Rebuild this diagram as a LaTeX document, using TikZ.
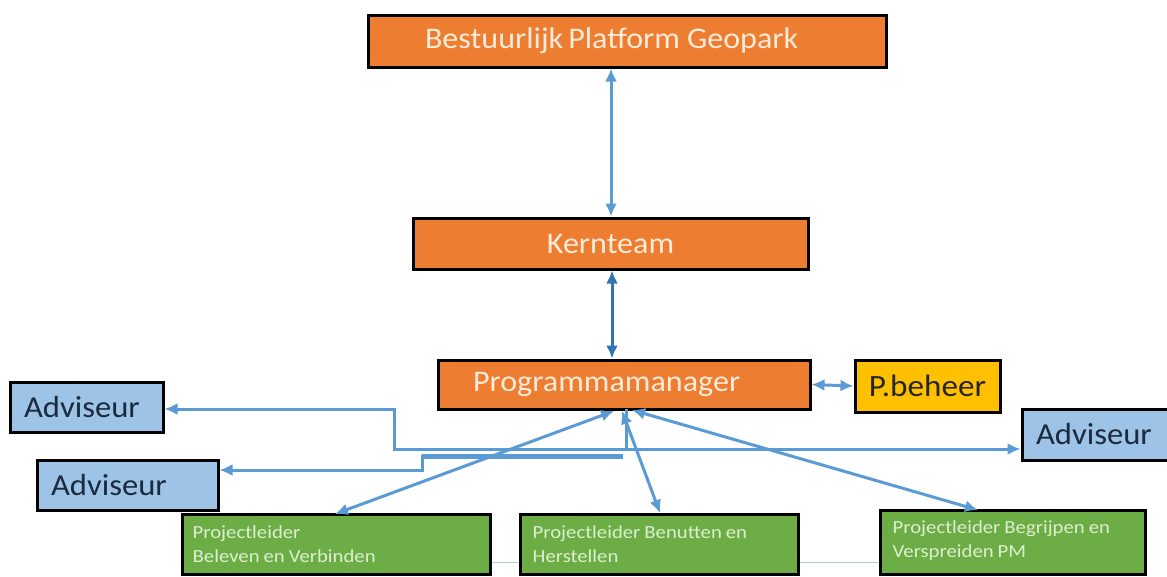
\documentclass[tikz,border=0pt]{standalone}
\usepackage{fontspec}
\setmainfont[FakeStretch=1.07]{Carlito}
\newfontfamily\gfont[FakeStretch=1.12]{Carlito}
\usetikzlibrary{arrows.meta}
\definecolor{orng}{HTML}{ED7D31}
\definecolor{orngtxt}{HTML}{FFEBD8}
\definecolor{yel}{HTML}{FFC000}
\definecolor{lblue}{HTML}{9DC3E6}
\definecolor{grn}{HTML}{6CAD45}
\definecolor{grntxt}{HTML}{DCEFD0}
\definecolor{arr}{HTML}{5B9BD5}
\definecolor{darr}{HTML}{2E75B6}
\definecolor{navy}{HTML}{1A2A40}
\definecolor{thinln}{HTML}{B4CBE3}
\tikzset{
  bx/.style={draw=black, line width=3pt, inner sep=0pt},
  obox/.style={bx, fill=orng, text=orngtxt, font=\fontsize{30}{34}\selectfont},
  abox/.style={bx, fill=lblue, text=navy, font=\fontsize{30.5}{34}\selectfont},
  gbox/.style={bx, fill=grn},
  gtext/.style={inner sep=0pt, anchor=north west, align=left, text=grntxt, font=\gfont\fontsize{18.5}{24}\selectfont},
  con/.style={draw=arr, line width=3pt},
  tip/.style={-{Latex[length=13pt,width=12pt]}},
  dtip/.style={{Latex[length=13pt,width=12pt]}-{Latex[length=13pt,width=12pt]}},
}
\begin{document}
\begin{tikzpicture}[x=1pt,y=-1pt]
\useasboundingbox (0,0) rectangle (1167,576);
\clip (0,0) rectangle (1167,576);
\fill[white] (0,0) rectangle (1167,576);

% nodes
\node[obox, minimum width=518, minimum height=52, inner xsep=57pt, text width=404pt, align=left] (bpg) at (627,41) {Bestuurlijk\hspace{5pt}Platform\hspace{7pt}Geopark};
\node[obox, minimum width=395, minimum height=51] (kt) at (610.5,243.5) {Kernteam};
\node[obox, minimum width=372, minimum height=49, inner xsep=35pt, text width=302pt, align=left] (pm) at (624,384.5) {Programmamanager};
\node[bx, fill=yel, text=black!85, font=\fontsize{31}{34}\selectfont, minimum width=145, minimum height=52] (pb) at (927.5,386) {P.beheer};
\node[abox, minimum width=153, minimum height=50, text width=125, align=left] (ad1) at (86.5,407) {Adviseur};
\node[abox, minimum width=181, minimum height=50, text width=153, align=left] (ad2) at (127.5,485) {Adviseur};
\node[abox, minimum width=160, minimum height=51, text width=132, align=left] (ad3) at (1102,434.5) {Adviseur};

\node[gbox, minimum width=308, minimum height=60] (g1) at (336,544) {};
\node[gbox, minimum width=278, minimum height=60] (g2) at (659,544) {};
\node[gbox, minimum width=265, minimum height=64] (g3) at (1012.5,542) {};
\node[gtext] (g1t) at ([xshift=12pt,yshift=-13pt]g1.north west) {Projectleider\\Beleven\hspace{4pt}en\hspace{4pt}Verbinden};
\node[gtext] (g2t) at ([xshift=14pt,yshift=-13pt]g2.north west) {Projectleider\hspace{4pt}Benutten\hspace{4pt}en\\Herstellen};
\node[gtext] (g3t) at ([xshift=14pt,yshift=-12pt]g3.north west) {Projectleider\hspace{4pt}Begrijpen\hspace{4pt}en\\Verspreiden\hspace{4pt}PM};

% thin lines between green boxes
\draw[thinln, line width=1pt] (g1.east |- 0,562) -- (g2.west |- 0,562);
\draw[thinln, line width=1pt] (g2.east |- 0,562) -- (g3.west |- 0,562);

% vertical connectors
\draw[con, dtip] ([xshift=-16pt]bpg.south) -- ([xshift=0.5pt]kt.north);
\draw[con, draw=darr, dtip] ([xshift=1.5pt]kt.south) -- ([xshift=-12pt]pm.north);
\draw[con, dtip] (pm.east) -- (pb.west);

% hub coordinates
\coordinate (h0) at (626,409);
\coordinate (h1) at (626,449);
\coordinate (h2) at (623,456);

% advisor connectors
\draw[con] (h0) -- (h1);
\draw[con, tip] (h1) -- (394,449) -- (394,409) -- (ad1.east |- 0,409);
\draw[con, tip] (h1) -- (ad3.west |- 0,449);
\draw[draw=arr, line width=5pt] (h2) -- (422,456);
\draw[con, tip] (422,455) -- (422,470) -- (ad2.east |- 0,470);

% programme to project leaders
\draw[con, dtip] (614,411) -- (335,514);
\draw[con, dtip] (622,411) -- (660,513);
\draw[con, dtip] (632,410) -- (978,510);
\end{tikzpicture}
\end{document}
